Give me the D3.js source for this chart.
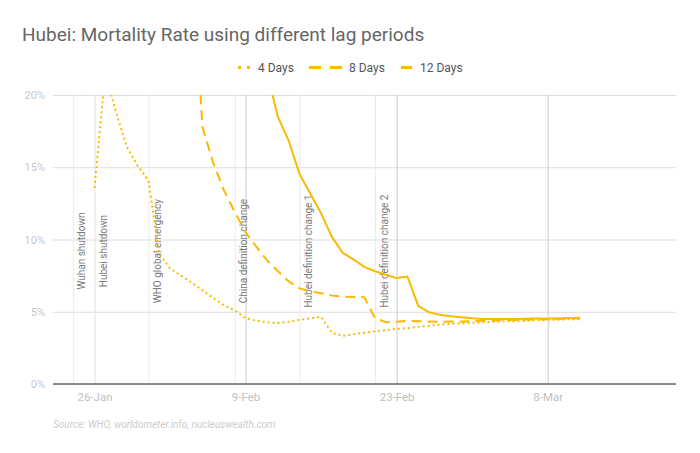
<!DOCTYPE html>
<html>
<head>
<meta charset="utf-8">
<script src="https://cdn.jsdelivr.net/npm/d3@7"></script>
<style>
  body { margin: 0; background: #fff; }
  svg { font-family: Roboto, "Noto Sans", sans-serif; }
</style>
</head>
<body>
<svg id="chart" width="700" height="453"></svg>
<script>
// daily categories, 26-Jan .. 11-Mar 2020
const days = ["26-Jan","27-Jan","28-Jan","29-Jan","30-Jan","31-Jan","1-Feb","2-Feb","3-Feb","4-Feb",
  "5-Feb","6-Feb","7-Feb","8-Feb","9-Feb","10-Feb","11-Feb","12-Feb","13-Feb","14-Feb",
  "15-Feb","16-Feb","17-Feb","18-Feb","19-Feb","20-Feb","21-Feb","22-Feb","23-Feb","24-Feb",
  "25-Feb","26-Feb","27-Feb","28-Feb","29-Feb","1-Mar","2-Mar","3-Mar","4-Mar","5-Mar",
  "6-Mar","7-Mar","8-Mar","9-Mar","10-Mar","11-Mar"];

// mortality rate (%) per lag period, null = no value
const lag4 = [13.57, 21.6, 18.8, 16.4, 15.1, 14.1, 9.0, 8.0, 7.5, 7.02,
  6.5, 5.95, 5.45, 5.1, 4.55, 4.38, 4.27, 4.22, 4.31, 4.44,
  4.55, 4.65, 3.55, 3.34, 3.44, 3.55, 3.65, 3.72, 3.82, 3.86,
  3.96, 4.03, 4.10, 4.17, 4.20, 4.24, 4.27, 4.31, 4.34, 4.34,
  4.38, 4.41, 4.44, 4.44, 4.48, 4.48];
const lag8 = [null, null, null, null, null, null, null, null, null, 30,
  17.8, 15.3, 13.4, 11.9, 10.5, 9.5, 8.55, 7.8, 7.1, 6.62,
  6.42, 6.28, 6.12, 6.04, 6.02, 6.01, 4.55, 4.28, 4.30, 4.38,
  4.35, 4.32, 4.30, 4.32, 4.33, 4.35, 4.38, 4.40, 4.41, 4.43,
  4.45, 4.46, 4.48, 4.50, 4.53, 4.55];
const lag12 = [null, null, null, null, null, null, null, null, null, null,
  null, null, null, null, null, null, 21.5, 18.48, 16.82, 14.54,
  13.16, 11.81, 10.18, 9.08, 8.63, 8.11, 7.80, 7.56, 7.33, 7.44,
  5.41, 4.96, 4.79, 4.69, 4.62, 4.55, 4.50, 4.49, 4.49, 4.50,
  4.51, 4.53, 4.54, 4.55, 4.57, 4.58];

const seriesNames = ["4 Days", "8 Days", "12 Days"];
const seriesValues = [lag4, lag8, lag12];

const tickLabels = ["26-Jan", "9-Feb", "23-Feb", "8-Mar"];
const yTicks = [0, 5, 10, 15, 20];

const eventDays = ["24-Jan", "26-Jan", "31-Jan", "8-Feb", "14-Feb", "21-Feb"];
const eventLabels = ["Wuhan shutdown", "Hubei shutdown", "WHO global emergency",
  "China definition change", "Hubei definition change 1", "Hubei definition change 2"];

const parseDay = (s) => d3.timeParse("%d-%b-%Y")(s + "-2020");

let svg = d3.select("#chart");
let margin = {left: 53, top: 95, right: 24, bottom: 69};
let width = +svg.attr("width") - margin.left - margin.right;
let height = +svg.attr("height") - margin.top - margin.bottom;

const LINE_COLOR = "#fbb900";
const EVENT_COLOR = "#ebebeb";
const dashes = ["2,3", "10,6", null];

let x = d3.scaleTime()
    .domain([parseDay("26-Jan"), parseDay("8-Mar")])
    .range([41.5, 494.7]);
let y = d3.scaleLinear().domain([0, 20]).range([height, 0]);

// title
svg.append("text")
    .attr("x", 22)
    .attr("y", 41)
    .attr("font-size", 19)
    .attr("fill", "#666")
    .text("Hubei: Mortality Rate using different lag periods");

// legend
let legendItems = [
    {name: seriesNames[0], x1: 238, x2: 250, dash: "3,6", tx: 258},
    {name: seriesNames[1], x1: 309, x2: 342, dash: "12,9", tx: 349},
    {name: seriesNames[2], x1: 401, x2: 412, dash: null, tx: 420}
];
let legend = svg.append("g");
legendItems.forEach((item) => {
    legend.append("line")
        .attr("x1", item.x1).attr("x2", item.x2)
        .attr("y1", 67.5).attr("y2", 67.5)
        .attr("stroke", LINE_COLOR)
        .attr("stroke-width", 3)
        .attr("stroke-dasharray", item.dash);
    legend.append("text")
        .attr("x", item.tx)
        .attr("y", 67.5)
        .attr("dy", "0.35em")
        .attr("font-size", 12)
        .attr("fill", "#555")
        .text(item.name);
});

let g = svg.append("g").attr("transform", `translate(${margin.left}, ${margin.top})`);

// horizontal grid + y labels
g.append("g")
    .call(d3.axisLeft(y).tickValues(yTicks).tickSize(-width).tickFormat((d) => d + "%"))
    .call((sel) => sel.select(".domain").remove())
    .call((sel) => sel.selectAll(".tick line").attr("stroke", "#dddddd"))
    .call((sel) => sel.selectAll(".tick text")
        .attr("x", -8)
        .attr("font-family", "Roboto, sans-serif")
        .attr("font-size", 11)
        .attr("fill", "#c8c8c8"));

// vertical grid at date ticks + labels; a tick that falls on an event keeps the event's light line
let eventTimes = eventDays.map((d) => +parseDay(d));
g.append("g")
    .attr("transform", `translate(0, ${height})`)
    .call(d3.axisBottom(x).tickValues(tickLabels.map(parseDay)).tickSize(-height)
        .tickFormat(d3.timeFormat("%-d-%b")))
    .call((sel) => sel.select(".domain").remove())
    .call((sel) => sel.selectAll(".tick line")
        .attr("stroke", (d) => eventTimes.includes(+d) ? EVENT_COLOR : "#cccccc"))
    .call((sel) => sel.selectAll(".tick text")
        .attr("y", 13)
        .attr("dy", "0.35em")
        .attr("font-family", "Roboto, sans-serif")
        .attr("font-size", 11.5)
        .attr("fill", "#c0c0c0"));

// event annotations
let events = eventDays.map((d, i) => ({date: parseDay(d), label: eventLabels[i]}));
let ev = g.append("g");
ev.selectAll("line")
    .data(events)
    .enter()
    .append("line")
    .attr("x1", (d) => x(d.date) + 0.5).attr("x2", (d) => x(d.date) + 0.5)
    .attr("y1", 0).attr("y2", height)
    .attr("stroke", EVENT_COLOR)
    .attr("stroke-width", 1);
ev.selectAll("text")
    .data(events)
    .enter()
    .append("text")
    .attr("transform", (d) => `translate(${x(d.date) + 9}, ${y(9.2)}) rotate(-90)`)
    .attr("text-anchor", "middle")
    .attr("dy", "0.35em")
    .attr("font-size", 10)
    .attr("fill", "#7a7a7a")
    .text((d) => d.label);

// baseline
g.append("line")
    .attr("x1", 0).attr("x2", width)
    .attr("y1", y(0)).attr("y2", y(0))
    .attr("stroke", "#666")
    .attr("stroke-width", 1.5);

// lines
g.append("clipPath").attr("id", "plot-clip")
    .append("rect").attr("x", 0).attr("y", 0).attr("width", width).attr("height", height);

let line = d3.line()
    .defined((d) => d.v != null)
    .x((d) => x(d.date))
    .y((d) => y(d.v));

seriesValues.forEach((vals, i) => {
    let pts = vals.map((v, j) => ({date: parseDay(days[j]), v: v}));
    g.append("path")
        .datum(pts)
        .attr("clip-path", "url(#plot-clip)")
        .attr("fill", "none")
        .attr("stroke", LINE_COLOR)
        .attr("stroke-width", 2)
        .attr("stroke-linejoin", "round")
        .attr("stroke-dasharray", dashes[i])
        .attr("d", line);
});

// source
svg.append("text")
    .attr("x", 53)
    .attr("y", 428)
    .attr("font-size", 10)
    .attr("font-style", "italic")
    .attr("fill", "#cccccc")
    .text("Source: WHO, worldometer.info, nucleuswealth.com");
</script>
</body>
</html>
